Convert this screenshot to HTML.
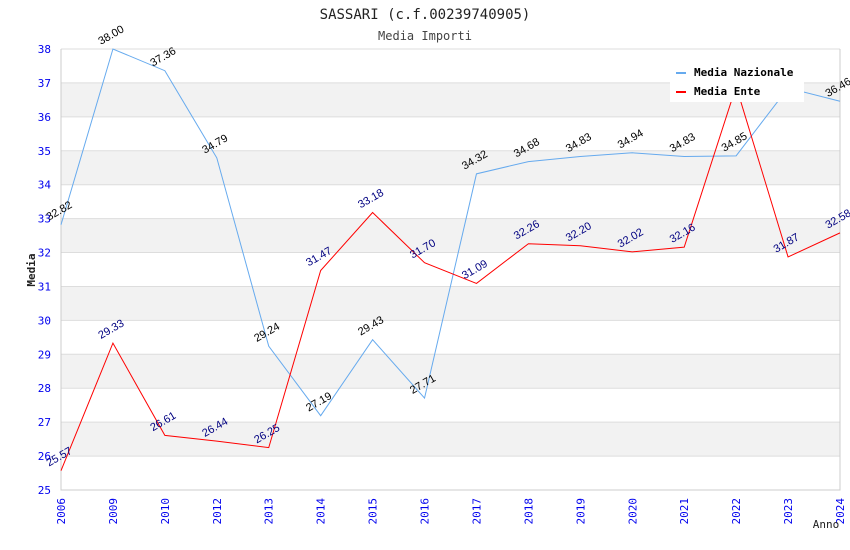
<!DOCTYPE html>
<html><head><meta charset="utf-8"><style>
body{margin:0;background:#fff;}
svg{display:block;font-family:"DejaVu Sans Mono","Liberation Mono",monospace;}
</style></head><body>
<svg id="chart" width="850" height="550">
<text x="425" y="19" text-anchor="middle" font-size="14" fill="#222">SASSARI (c.f.00239740905)</text>
<text x="425" y="40" text-anchor="middle" font-size="12" fill="#444">Media Importi</text>
<g id="bands"></g><g id="grid"></g><g id="axes"></g><g id="series"></g><g id="labels"></g>
<text transform="translate(35,270) rotate(-90)" text-anchor="middle" font-size="11" font-weight="bold" fill="#222">Media</text>
<text x="826" y="528" text-anchor="middle" font-size="11" fill="#222">Anno</text>
<g>
<rect x="670" y="60" width="134" height="42" fill="#fff"/>
<line x1="676" y1="73" x2="686" y2="73" stroke="#66aaee" stroke-width="2"/>
<text x="694" y="76" font-size="11" font-weight="bold" fill="#000">Media Nazionale</text>
<line x1="676" y1="92" x2="686" y2="92" stroke="#ff0000" stroke-width="2"/>
<text x="694" y="95" font-size="11" font-weight="bold" fill="#000">Media Ente</text>
</g>
</svg>
<script>
const categories=["2006","2009","2010","2012","2013","2014","2015","2016","2017","2018","2019","2020","2021","2022","2023","2024"];
const nazionale=[32.82,38.00,37.36,34.79,29.24,27.19,29.43,27.71,34.32,34.68,34.83,34.94,34.83,34.85,36.85,36.46];
const ente=[25.57,29.33,26.61,26.44,26.25,31.47,33.18,31.70,31.09,32.26,32.20,32.02,32.16,36.90,31.87,32.58];
const yTicks=[25,26,27,28,29,30,31,32,33,34,35,36,37,38];
const NS='http://www.w3.org/2000/svg';
const L=61,R=840,T=49,B=490,ymin=25,ymax=38;
const xs=i=>L+i*(R-L)/(categories.length-1);
const ys=v=>B-(v-ymin)*(B-T)/(ymax-ymin);
function mk(tag,attrs,parent,txt){const e=document.createElementNS(NS,tag);for(const k in attrs)e.setAttribute(k,attrs[k]);if(txt!==undefined)e.textContent=txt;document.getElementById(parent).appendChild(e);return e;}
for(let i=0;i<yTicks.length-1;i++){
  if(yTicks[i]%2===0){
    const r=mk('rect',{x:L,y:ys(yTicks[i]+1),width:R-L,height:ys(yTicks[i])-ys(yTicks[i]+1),fill:'#f2f2f2'},'bands');
    
    
  }
}
yTicks.forEach(t=>{
  const g=mk('line',{x1:L,x2:R,y1:ys(t),y2:ys(t),stroke:'#dddddd'},'grid');
  
  
  const tx=mk('text',{x:L-10,y:ys(t)+4,'text-anchor':'end','font-size':11,fill:'#0000ee'},'axes',String(t));
  
  
});
const ax=mk('path',{d:`M${L},${T} V${B} H${R} V${T}`,fill:'none',stroke:'#cccccc'},'axes');


categories.forEach((c,i)=>{
  const tx=mk('text',{transform:`translate(${xs(i)+4},${B+8}) rotate(-90)`,'text-anchor':'end','font-size':11,fill:'#0000ee'},'axes',c);
  
  
});
function series(vals,color,lblColor,name){
  const p=mk('polyline',{points:vals.map((v,i)=>xs(i)+','+ys(v)).join(' '),fill:'none',stroke:color,'stroke-width':1},'series');
  
  
  vals.forEach((v,i)=>{
    const t=mk('text',{transform:`translate(${xs(i)-12},${ys(v)-4}) rotate(-30)`,'font-size':11,fill:lblColor,'font-family':'"Liberation Sans",sans-serif'},'labels',v.toFixed(2));
    
    
  });
}
series(nazionale,'#66aaee','#000','nazionale');
series(ente,'#ff0000','#000080','ente');
</script>
</body></html>
